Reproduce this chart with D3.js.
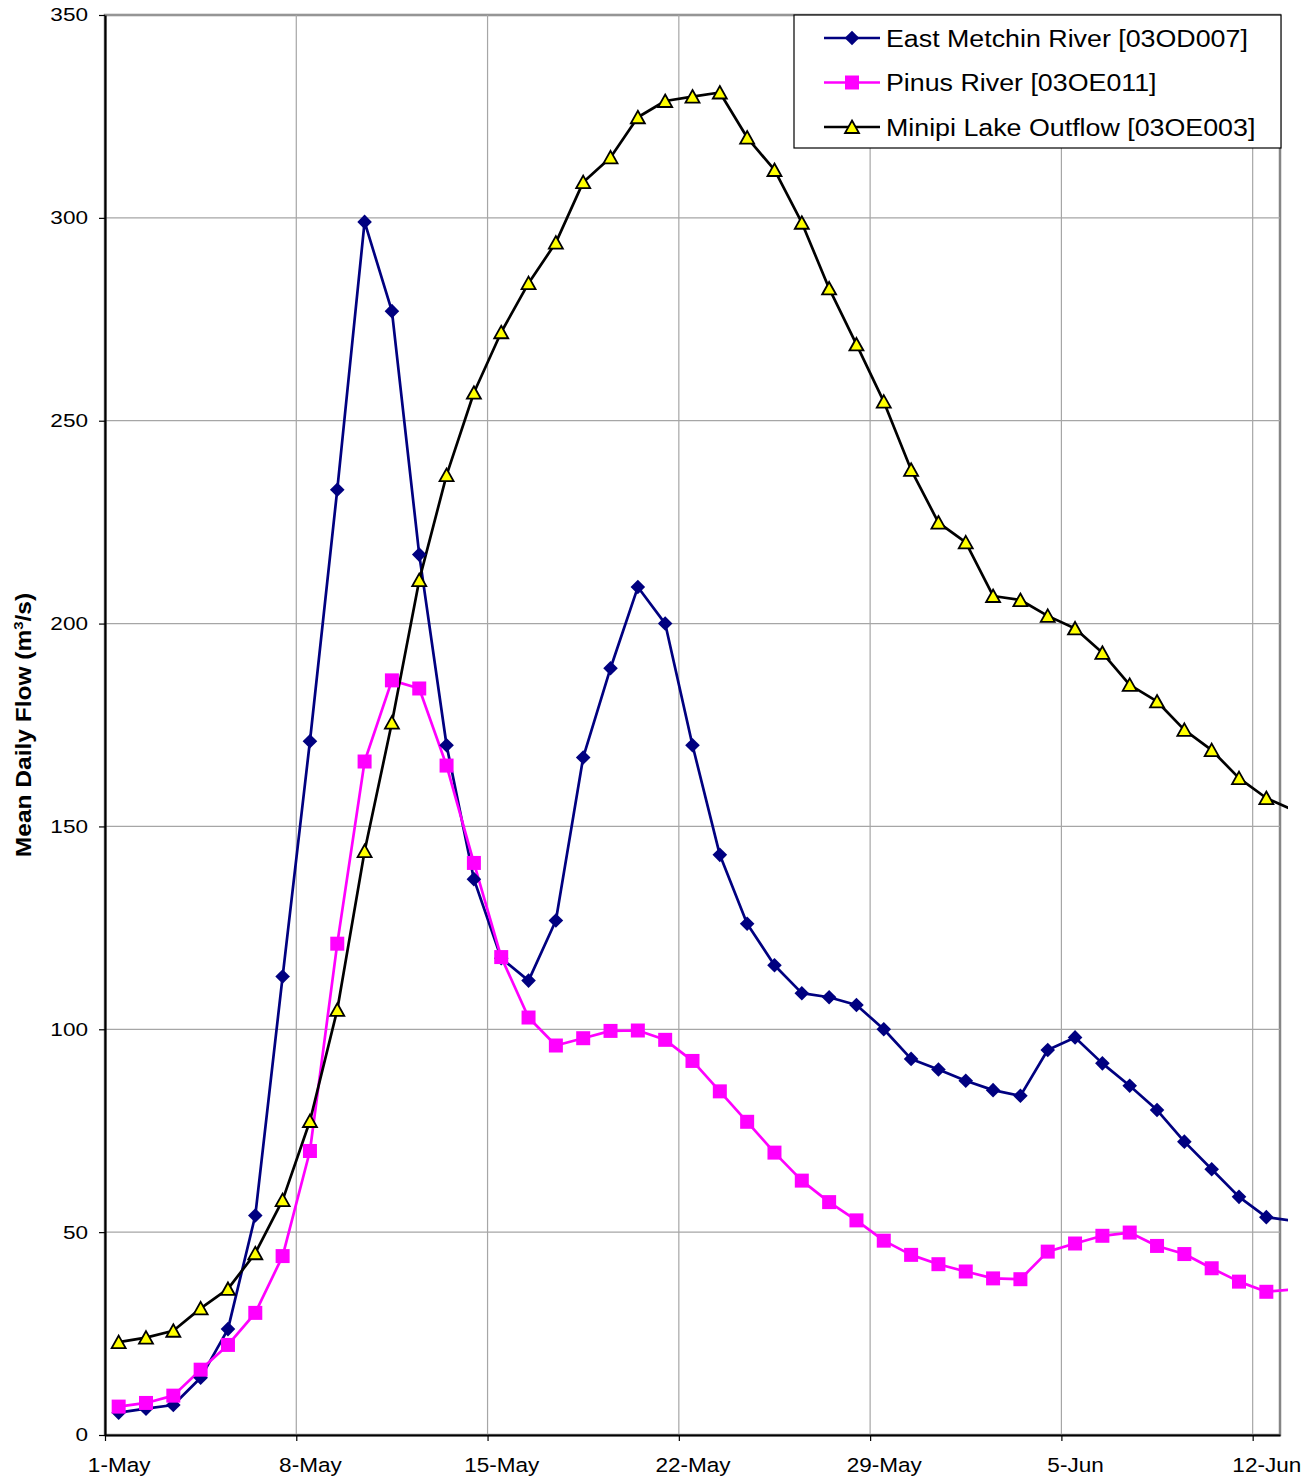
<!DOCTYPE html>
<html>
<head>
<meta charset="utf-8">
<script src="https://cdn.jsdelivr.net/npm/d3@7"></script>
<style>
  body { margin: 0; background: #fff; }
  text { font-family: "Liberation Sans", Arial, sans-serif; fill: #000; }
</style>
</head>
<body>
<svg id="chart" width="1312" height="1479"></svg>
<script>
// daily categories, 1-May .. 13-Jun (last day falls just past the axis end)
const days = d3.timeDay.range(new Date(2000, 4, 1), new Date(2000, 5, 14));
const shownDays = 43; // 1-May .. 12-Jun on the category axis
const tickLabels = ["1-May", "8-May", "15-May", "22-May", "29-May", "5-Jun", "12-Jun"];
const yTicks = [0, 50, 100, 150, 200, 250, 300, 350];

// mean daily flow, m3/s
const eastMetchin = [5.5, 6.5, 7.4, 14.1, 26.1, 54.1, 113, 171, 233, 299, 277, 217, 170, 137, 117.5,
  112, 126.8, 167, 189, 209, 200, 170, 143, 126, 115.8, 108.9, 107.9, 106, 100, 92.7, 90.1,
  87.3, 85, 83.6, 94.9, 98, 91.6, 86.1, 80.1, 72.3, 65.5, 58.7, 53.7, 52.8];
const pinus = [7.0, 7.9, 9.7, 16.1, 22.2, 30.1, 44.1, 70.0, 121.1, 166, 186, 184, 165, 141, 117.8,
  102.9, 96, 97.8, 99.6, 99.7, 97.4, 92.2, 84.7, 77.2, 69.6, 62.7, 57.4, 52.9, 47.9, 44.4, 42.1,
  40.3, 38.6, 38.4, 45.2, 47.2, 49.1, 49.9, 46.6, 44.6, 41.1, 37.8, 35.3, 35.9];
const minipi = [22.9, 24.0, 25.7, 31.2, 36.0, 44.8, 57.9, 77.4, 104.8, 143.9, 175.6, 210.7, 236.6, 256.9, 271.8,
  283.9, 293.9, 308.8, 314.9, 324.8, 328.8, 329.9, 330.9, 319.8, 311.8, 298.8, 282.6, 268.8, 254.7, 237.9, 224.9,
  220, 206.8, 205.8, 201.9, 198.8, 192.8, 184.9, 180.8, 173.8, 168.8, 161.9, 157, 154];

const series = [
  { name: "East Metchin River [03OD007]", values: eastMetchin, color: "#000080", marker: "diamond" },
  { name: "Pinus River [03OE011]", values: pinus, color: "#FF00FF", marker: "square" },
  { name: "Minipi Lake Outflow [03OE003]", values: minipi, color: "#000000", marker: "triangle" }
];

const svg = d3.select("#chart");
const plotLeft = 105, plotRight = 1280, plotTop = 15, plotBottom = 1435;

const x = d3.scaleLinear().domain([-0.5, shownDays - 0.5]).range([plotLeft, plotRight]);
const y = d3.scaleLinear().domain([0, 350]).range([plotBottom, plotTop]);

// Excel-ish text is a bit wider than Arial, stretch it
function stretch(sel, k) {
  sel.each(function() {
    const w = this.getComputedTextLength();
    d3.select(this).attr("textLength", w * k).attr("lengthAdjust", "spacingAndGlyphs");
  });
}

// marker shapes centred on their box
const markerPath = {
  diamond: "M0,-7.3L7.3,0L0,7.3L-7.3,0Z",
  square: "M-7,-7H7V7H-7Z",
  triangle: "M0,-6.5L7,6L-7,6Z"
};

// plot frame
svg.append("rect")
  .attr("x", plotLeft).attr("y", plotTop)
  .attr("width", plotRight - plotLeft).attr("height", plotBottom - plotTop)
  .attr("fill", "#fff").attr("stroke", "#858585").attr("stroke-width", 2.5);

// horizontal gridlines
svg.append("g")
  .selectAll("line")
  .data(yTicks.slice(1))
  .join("line")
  .attr("x1", plotLeft).attr("x2", plotRight)
  .attr("y1", d => y(d)).attr("y2", d => y(d))
  .attr("stroke", "#a6a6a6").attr("stroke-width", 1.2);

// vertical gridlines at the weekly category boundaries
const weekEdges = d3.range(6.5, shownDays, 7);
svg.append("g")
  .selectAll("line")
  .data(weekEdges)
  .join("line")
  .attr("x1", d => x(d)).attr("x2", d => x(d))
  .attr("y1", plotTop).attr("y2", plotBottom)
  .attr("stroke", "#a6a6a6").attr("stroke-width", 1.2);

// y axis
const yAxis = svg.append("g")
  .attr("transform", `translate(${plotLeft},0)`)
  .call(d3.axisLeft(y).tickValues(yTicks).tickSize(6).tickPadding(11).tickSizeOuter(0));
yAxis.select(".domain").attr("stroke", "#000").attr("stroke-width", 2.2);
yAxis.selectAll(".tick line").attr("stroke", "#000").attr("stroke-width", 1.2);
yAxis.selectAll("text").attr("font-size", 18.5).attr("font-family", "Liberation Sans, Arial, sans-serif");
stretch(yAxis.selectAll("text"), 1.22);

// x axis: tick marks on the week boundaries, labels on the day centres
const xTickAxis = svg.append("g")
  .attr("transform", `translate(0,${plotBottom})`)
  .call(d3.axisBottom(x).tickValues(d3.range(-0.5, shownDays, 7)).tickSize(6).tickFormat("").tickSizeOuter(0));
xTickAxis.select(".domain").attr("stroke", "#000").attr("stroke-width", 2.2);
xTickAxis.selectAll(".tick line").attr("stroke", "#000").attr("stroke-width", 1.2);

const labelIdx = d3.range(0, shownDays, 7);
const xLabelAxis = svg.append("g")
  .attr("transform", `translate(0,${plotBottom})`)
  .call(d3.axisBottom(x).tickValues(labelIdx).tickSize(0)
    .tickFormat((d, i) => tickLabels[i]));
xLabelAxis.select(".domain").remove();
xLabelAxis.selectAll("text")
  .attr("y", 37).attr("dy", null)
  .attr("font-size", 20.5).attr("font-family", "Liberation Sans, Arial, sans-serif");
stretch(xLabelAxis.selectAll("text"), 1.1);

// y axis title
const yTitle = svg.append("text")
  .attr("transform", `translate(31,725) rotate(-90)`)
  .attr("text-anchor", "middle")
  .attr("font-size", 21.5)
  .attr("font-weight", "bold");
yTitle.append("tspan").text("Mean Daily Flow (m");
yTitle.append("tspan").attr("font-size", 13).attr("dy", -8).text("3");
yTitle.append("tspan").attr("dy", 8).text("/s)");
stretch(yTitle, 1.14);

// lines, clipped a little past the right frame like the original
svg.append("clipPath").attr("id", "clip")
  .append("rect").attr("x", plotLeft).attr("y", 0).attr("width", 1288 - plotLeft).attr("height", plotBottom);

const line = d3.line()
  .x((d, i) => x(i))
  .y(d => y(d));

const plot = svg.append("g");

series.forEach(s => {
  plot.append("path")
    .datum(s.values)
    .attr("clip-path", "url(#clip)")
    .attr("fill", "none")
    .attr("stroke", s.color)
    .attr("stroke-width", 2.7)
    .attr("stroke-linejoin", "round")
    .attr("d", line);
});

series.forEach(s => {
  plot.append("g")
    .selectAll("path")
    .data(s.values.slice(0, shownDays))
    .join("path")
    .attr("transform", (d, i) => `translate(${x(i)},${y(d)})`)
    .attr("d", markerPath[s.marker])
    .attr("fill", s.marker === "triangle" ? "#FFFF00" : s.color)
    .attr("stroke", s.marker === "triangle" ? "#000" : "none")
    .attr("stroke-width", 1.8)
    .attr("stroke-linejoin", "miter");
});

// legend
const legend = svg.append("g");
legend.append("rect")
  .attr("x", 794).attr("y", 15).attr("width", 487).attr("height", 133)
  .attr("fill", "#fff").attr("stroke", "#000").attr("stroke-width", 1.2);

const rows = legend.selectAll("g.row")
  .data(series)
  .join("g")
  .attr("class", "row")
  .attr("transform", (d, i) => `translate(0,${38 + i * 44.5})`);

rows.append("line")
  .attr("x1", 824).attr("x2", 880)
  .attr("stroke", d => d.color).attr("stroke-width", 2.6);
rows.append("path")
  .attr("transform", "translate(852,0)")
  .attr("d", d => markerPath[d.marker])
  .attr("fill", d => d.marker === "triangle" ? "#FFFF00" : d.color)
  .attr("stroke", d => d.marker === "triangle" ? "#000" : "none")
  .attr("stroke-width", 1.8);
const legendText = rows.append("text")
  .attr("x", 886).attr("y", 8.5)
  .attr("font-size", 23.3)
  .text(d => d.name);
stretch(legendText, 1.15);
</script>
</body>
</html>
